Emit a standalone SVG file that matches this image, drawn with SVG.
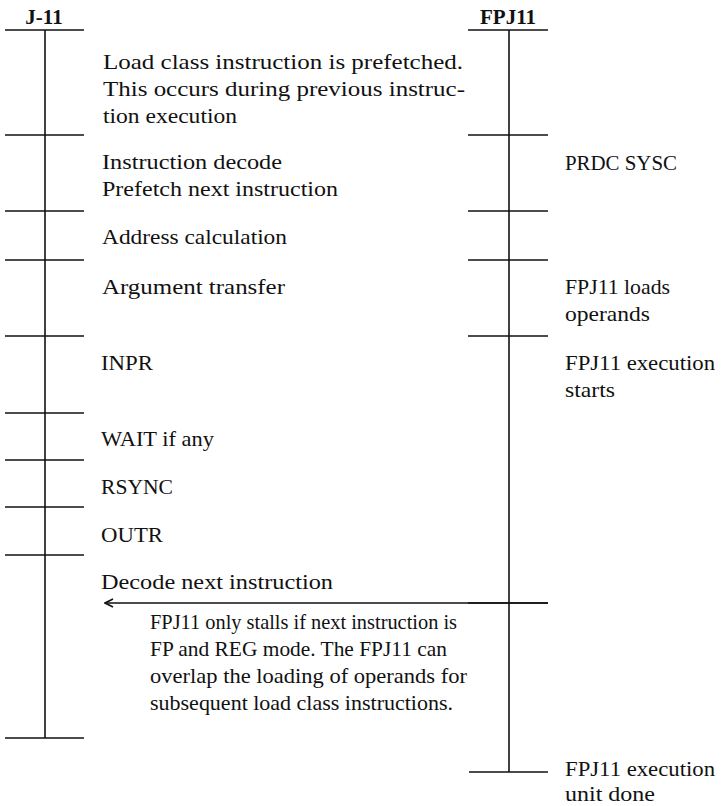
<svg xmlns="http://www.w3.org/2000/svg" width="724" height="806" viewBox="0 0 724 806">
  <style>
    .ax { stroke: #111; stroke-width: 1.6; fill: none; }
    .t { font-family: "Liberation Serif", "Times New Roman", serif; font-size: 22px; fill: #111; }
    .h { font-family: "Liberation Serif", "Times New Roman", serif; font-size: 21px; font-weight: bold; fill: #111; text-anchor: middle; }
  </style>
  <defs>
    <marker id="head" viewBox="0 0 10 10" refX="9" refY="5" markerWidth="10" markerHeight="10" markerUnits="userSpaceOnUse" orient="auto">
      <path d="M 1 1 L 9 5 L 1 9" fill="none" stroke="#111" stroke-width="1.6"/>
    </marker>
  </defs>
  <rect width="724" height="806" fill="#fff"/>

  <!-- J-11 timeline -->
  <g id="j11-axis">
    <text class="h" x="44" y="24">J-11</text>
    <line class="ax" x1="45" y1="30" x2="45" y2="738"/>
    <line class="ax" x1="5" y1="30" x2="84" y2="30"/>
    <line class="ax" x1="5" y1="135" x2="84" y2="135"/>
    <line class="ax" x1="5" y1="211" x2="84" y2="211"/>
    <line class="ax" x1="5" y1="260" x2="84" y2="260"/>
    <line class="ax" x1="5" y1="336" x2="84" y2="336"/>
    <line class="ax" x1="5" y1="413" x2="84" y2="413"/>
    <line class="ax" x1="5" y1="460" x2="84" y2="460"/>
    <line class="ax" x1="5" y1="507" x2="84" y2="507"/>
    <line class="ax" x1="5" y1="555" x2="84" y2="555"/>
    <line class="ax" x1="5" y1="738" x2="84" y2="738"/>
  </g>

  <!-- FPJ11 timeline -->
  <g id="fpj11-axis">
    <text class="h" x="508" y="24">FPJ11</text>
    <line class="ax" x1="509" y1="30" x2="509" y2="772"/>
    <line class="ax" x1="468" y1="30" x2="548" y2="30"/>
    <line class="ax" x1="468" y1="135" x2="548" y2="135"/>
    <line class="ax" x1="468" y1="211" x2="548" y2="211"/>
    <line class="ax" x1="468" y1="260" x2="548" y2="260"/>
    <line class="ax" x1="468" y1="336" x2="548" y2="336"/>
    <line class="ax" x1="468" y1="603" x2="548" y2="603"/>
    <line class="ax" x1="469" y1="772" x2="548" y2="772"/>
  </g>

  <!-- J-11 steps -->
  <g id="step-prefetch">
    <text class="t" x="103" y="69" textLength="360" lengthAdjust="spacingAndGlyphs">Load class instruction is prefetched.</text>
    <text class="t" x="103" y="96" textLength="362" lengthAdjust="spacingAndGlyphs">This occurs during previous instruc-</text>
    <text class="t" x="103" y="123" textLength="134" lengthAdjust="spacingAndGlyphs">tion execution</text>
  </g>
  <g id="step-decode">
    <text class="t" x="102" y="169" textLength="180" lengthAdjust="spacingAndGlyphs">Instruction decode</text>
    <text class="t" x="102" y="196" textLength="236" lengthAdjust="spacingAndGlyphs">Prefetch next instruction</text>
  </g>
  <g id="step-address">
    <text class="t" x="102" y="244" textLength="185" lengthAdjust="spacingAndGlyphs">Address calculation</text>
  </g>
  <g id="step-argument">
    <text class="t" x="102" y="294" textLength="183" lengthAdjust="spacingAndGlyphs">Argument transfer</text>
  </g>
  <g id="step-inpr">
    <text class="t" x="101" y="370" textLength="52" lengthAdjust="spacingAndGlyphs">INPR</text>
  </g>
  <g id="step-wait">
    <text class="t" x="101" y="446" textLength="113" lengthAdjust="spacingAndGlyphs">WAIT if any</text>
  </g>
  <g id="step-rsync">
    <text class="t" x="101" y="494" textLength="72" lengthAdjust="spacingAndGlyphs">RSYNC</text>
  </g>
  <g id="step-outr">
    <text class="t" x="101" y="542" textLength="62" lengthAdjust="spacingAndGlyphs">OUTR</text>
  </g>
  <g id="step-next">
    <text class="t" x="101" y="589" textLength="232" lengthAdjust="spacingAndGlyphs">Decode next instruction</text>
  </g>
  <g id="note-stall">
    <text class="t" x="150" y="629" textLength="307" lengthAdjust="spacingAndGlyphs">FPJ11 only stalls if next instruction is</text>
    <text class="t" x="150" y="656" textLength="297" lengthAdjust="spacingAndGlyphs">FP and REG mode. The FPJ11 can</text>
    <text class="t" x="150" y="683" textLength="317" lengthAdjust="spacingAndGlyphs">overlap the loading of operands for</text>
    <text class="t" x="150" y="710" textLength="303" lengthAdjust="spacingAndGlyphs">subsequent load class instructions.</text>
  </g>

  <!-- FPJ11 steps -->
  <g id="fp-sysc">
    <text class="t" x="565" y="170" textLength="112" lengthAdjust="spacingAndGlyphs">PRDC SYSC</text>
  </g>
  <g id="fp-loads">
    <text class="t" x="565" y="294" textLength="105" lengthAdjust="spacingAndGlyphs">FPJ11 loads</text>
    <text class="t" x="565" y="321" textLength="85" lengthAdjust="spacingAndGlyphs">operands</text>
  </g>
  <g id="fp-exec">
    <text class="t" x="565" y="370" textLength="150" lengthAdjust="spacingAndGlyphs">FPJ11 execution</text>
    <text class="t" x="565" y="397" textLength="50" lengthAdjust="spacingAndGlyphs">starts</text>
  </g>
  <g id="fp-done">
    <text class="t" x="565" y="776" textLength="150" lengthAdjust="spacingAndGlyphs">FPJ11 execution</text>
    <text class="t" x="565" y="801" textLength="90" lengthAdjust="spacingAndGlyphs">unit done</text>
  </g>

  <!-- handoff from FPJ11 back to J-11 -->
  <g id="connectors">
    <line class="ax" x1="548" y1="603" x2="105" y2="603" marker-end="url(#head)"/>
  </g>
</svg>
